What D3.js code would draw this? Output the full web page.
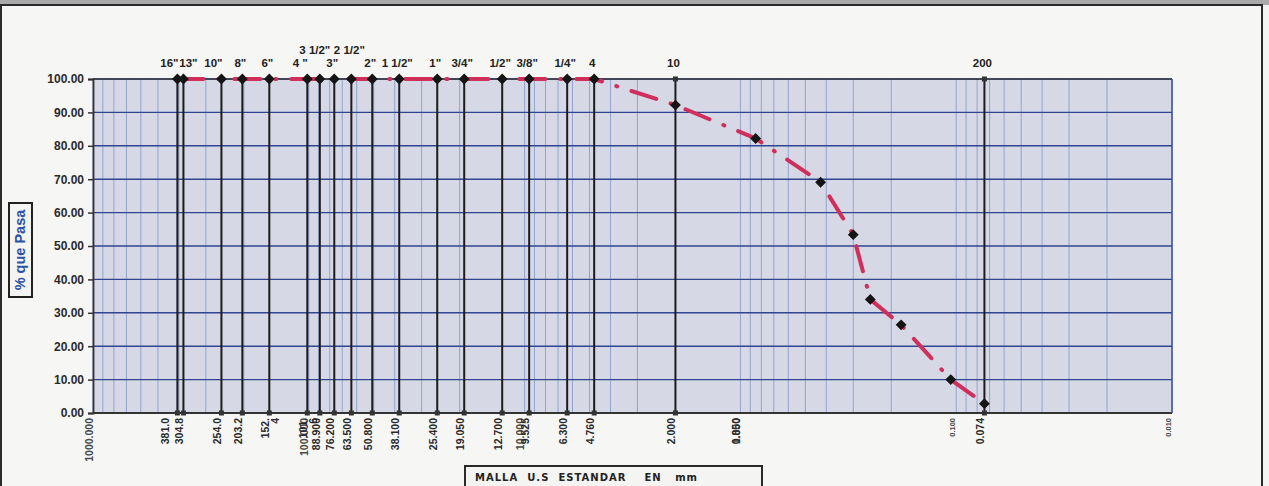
<!DOCTYPE html>
<html>
<head>
<meta charset="utf-8">
<script src="https://cdn.jsdelivr.net/npm/d3@7"></script>
<style>
  html, body { margin: 0; padding: 0; background: #f4f4f2; }
  svg { display: block; font-family: "Liberation Sans", Arial, sans-serif; }
</style>
</head>
<body>
<div id="chart"></div>
<script>
// sieves (malla) : top label, opening in mm, bottom data label
const sieveNames = ['16"', '13"', '10"', '8"', '6"', '4 "', '3 1/2"', '3"', '2 1/2"', '2"', '1 1/2"',
  '1"', '3/4"', '1/2"', '3/8"', '1/4"', '4', '10', '200']
const sieveMm = [406.4, 381.0, 254.0, 203.2, 152.4, 101.6, 88.9, 76.2, 63.5, 50.8, 38.1,
  25.4, 19.05, 12.7, 9.525, 6.35, 4.76, 2.0, 0.074]
const sieveLabels = ['381.0', '304.8', '254.0', '203.2', '152.\n4', '101.\n6', '88.900', '76.200', '63.500', '50.800', '38.100',
  '25.400', '19.050', '12.700', '9.525', '6.300', '4.760', '2.000', '0.074']
// raised top labels
const raisedNames = ['3 1/2"', '2 1/2"']

// grading curve (% que pasa)
const curveMm = [406.4, 381.0, 254.0, 203.2, 152.4, 101.6, 88.9, 76.2, 63.5, 50.8, 38.1,
  25.4, 19.05, 12.7, 9.525, 6.35, 4.76, 2.0, 0.85, 0.425, 0.30, 0.25, 0.18, 0.106, 0.074]
const curvePct = [100, 100, 100, 100, 100, 100, 100, 100, 100, 100, 100,
  100, 100, 100, 100, 100, 100, 92.2, 82.2, 69.1, 53.4, 34.0, 26.4, 10.0, 2.8]

const decadeTicks = [1000, 100, 10, 1, 0.1, 0.01]
const extraLabels = [{ v: 1, t: '0.850' }]
const yTicks = [0, 10, 20, 30, 40, 50, 60, 70, 80, 90, 100]

const W = 1269, H = 486
const L = 93, R = 1172, T = 79, B = 413

const svg = d3.select('#chart').append('svg')
  .attr('width', W).attr('height', H)

// scanned page look
svg.append('rect').attr('width', W).attr('height', 5).attr('fill', '#a9a9a9')
svg.append('rect').attr('x', 1).attr('y', 5).attr('width', W - 8).attr('height', H)
  .attr('fill', '#f6f6f4').attr('stroke', '#2a2a2a').attr('stroke-width', 2)

const x = d3.scaleLog().domain([1000, 0.01]).range([L, R])
const y = d3.scaleLinear().domain([0, 100]).range([B, T])

// plot area
svg.append('rect').attr('x', L).attr('y', T).attr('width', R - L).attr('height', B - T)
  .attr('fill', '#d6d8e5')

// log grid
svg.append('g').selectAll('line')
  .data(x.ticks())
  .join('line')
    .attr('x1', d => x(d)).attr('x2', d => x(d))
    .attr('y1', T).attr('y2', B)
    .attr('stroke', '#93a3cf').attr('stroke-width', 1)

svg.append('g').selectAll('line')
  .data(yTicks)
  .join('line')
    .attr('x1', L).attr('x2', R)
    .attr('y1', d => y(d)).attr('y2', d => y(d))
    .attr('stroke', '#2f4591').attr('stroke-width', 1.4)

// frame
svg.append('line').attr('x1', L).attr('x2', R).attr('y1', T).attr('y2', T)
  .attr('stroke', '#3a3a3a').attr('stroke-width', 1.5)
svg.append('line').attr('x1', L).attr('x2', R).attr('y1', B).attr('y2', B)
  .attr('stroke', '#333').attr('stroke-width', 1.8)
svg.append('line').attr('x1', R).attr('x2', R).attr('y1', T).attr('y2', B)
  .attr('stroke', '#3352a8').attr('stroke-width', 1.5)

// y axis
const yAxis = svg.append('g')
  .attr('transform', `translate(${L},0)`)
  .call(d3.axisLeft(y).tickValues(yTicks).tickFormat(d3.format('.2f')).tickSize(5).tickPadding(4))
yAxis.select('.domain').attr('stroke', '#333').attr('stroke-width', 1.8)
yAxis.selectAll('.tick line').attr('stroke', '#333').attr('stroke-width', 1.5)
yAxis.selectAll('.tick text').attr('font-size', 12).attr('font-weight', 'bold')
  .attr('fill', '#2a2a2a').attr('font-family', '"Liberation Sans", Arial, sans-serif')

// sieve drop lines
const sieves = sieveNames.map((n, i) => ({ name: n, mm: sieveMm[i], label: sieveLabels[i] }))
const gS = svg.append('g')
gS.selectAll('line')
  .data(sieves)
  .join('line')
    .attr('x1', d => x(d.mm)).attr('x2', d => x(d.mm))
    .attr('y1', y(100)).attr('y2', y(0))
    .attr('stroke', '#1c1c1c').attr('stroke-width', 2)
gS.selectAll('rect.end')
  .data(sieves.flatMap(d => [{ mm: d.mm, p: 0 }, { mm: d.mm, p: 100 }]))
  .join('rect')
    .attr('class', 'end')
    .attr('x', d => x(d.mm) - 2.5).attr('y', d => y(d.p) - 2.5)
    .attr('width', 5).attr('height', 5)
    .attr('fill', '#333')

// top labels (crowded ones pushed apart, as in the sheet)
const nudge = { '16"': -6, '13"': 7, '10"': -6, '4 "': -5, '3 1/2"': -3 }
gS.selectAll('text.top')
  .data(sieves)
  .join('text')
    .attr('class', 'top')
    .attr('x', d => x(d.mm) - 2 + (nudge[d.name] || 0))
    .attr('y', d => raisedNames.includes(d.name) ? 54 : 67)
    .attr('text-anchor', 'middle')
    .attr('font-size', 11.5).attr('font-weight', 'bold').attr('fill', '#222')
    .text(d => d.name)

// bottom rotated labels
const nudgeBottom = { '381.0': -8 }
function rotLabel(sel, color) {
  sel.attr('transform', d => `translate(${x(d.v) - 4 + (nudgeBottom[d.t] || 0)},418) rotate(-90)`)
    .attr('text-anchor', 'end')
    .attr('font-size', d => d.v < 1 && d.v !== 0.074 ? 7.5 : 10.5)
    .attr('font-weight', 'bold').attr('fill', color)
    .each(function (d) {
      const parts = d.t.split('\n')
      d3.select(this).selectAll('tspan').data(parts).join('tspan')
        .attr('x', 0).attr('dy', (p, i) => i === 0 ? '0.35em' : '1em')
        .text(p => p)
    })
}
svg.append('g').selectAll('text')
  .data(decadeTicks.map(v => ({ v, t: d3.format('.3f')(v) })))
  .join('text')
    .call(rotLabel, '#4a4a4a')
svg.append('g').selectAll('text')
  .data(sieves.map(d => ({ v: d.mm, t: d.label })).concat(extraLabels))
  .join('text')
    .call(rotLabel, '#2a2a2a')

// grading curve
svg.append('path')
  .datum(curveMm.map((m, i) => [m, curvePct[i]]))
  .attr('d', d3.line().x(d => x(d[0])).y(d => y(d[1])))
  .attr('fill', 'none')
  .attr('stroke', '#cf2f5a').attr('stroke-width', 4)
  .attr('stroke-linecap', 'round')
  .attr('stroke-dasharray', '26 15 1 15')

svg.append('g').selectAll('path')
  .data(curveMm.map((m, i) => [m, curvePct[i]]))
  .join('path')
    .attr('transform', d => `translate(${x(d[0])},${y(d[1])})`)
    .attr('d', d3.symbol(d3.symbolDiamond2, 75))
    .attr('fill', '#151515')

// axis titles
const yt = svg.append('g').attr('transform', 'translate(20,250)')
yt.append('rect').attr('x', -11).attr('y', -47).attr('width', 23).attr('height', 94)
  .attr('fill', '#f4f4f2').attr('stroke', '#222').attr('stroke-width', 2)
yt.append('text').attr('transform', 'rotate(-90)')
  .attr('text-anchor', 'middle').attr('dy', '0.35em')
  .attr('font-size', 14.5).attr('font-weight', 'bold').attr('fill', '#2b52a4')
  .text('% que Pasa')

const xt = svg.append('g').attr('transform', 'translate(465,466)')
xt.append('rect').attr('width', 297).attr('height', 22)
  .attr('fill', '#f4f4f2').attr('stroke', '#2a2a2a').attr('stroke-width', 2)
xt.append('text').attr('x', 10).attr('y', 15)
  .attr('font-family', '"DejaVu Sans", sans-serif')
  .attr('font-size', 10).attr('font-weight', 'bold').attr('fill', '#222')
  .attr('textLength', 222).attr('lengthAdjust', 'spacing')
  .attr('xml:space', 'preserve').style('white-space', 'pre')
  .text('MALLA  U.S  ESTANDAR    EN   mm')
</script>
</body>
</html>
